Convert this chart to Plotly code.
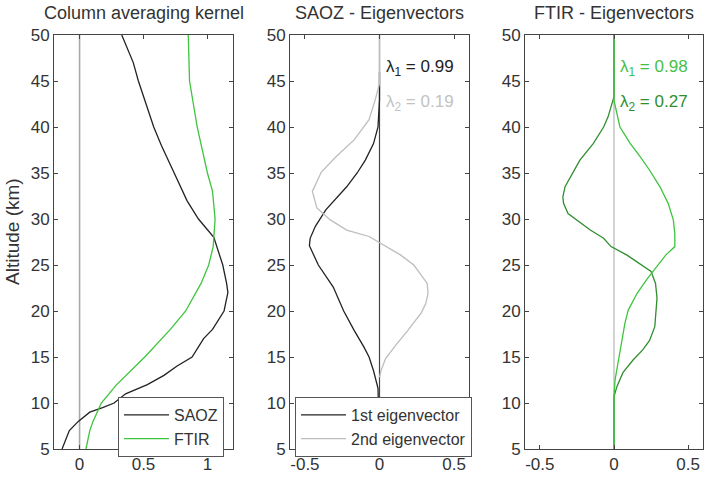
import plotly.graph_objects as go

# ---------------- data ----------------
# Panel 1: column averaging kernels
saoz_ak_alt = [5, 7, 8, 9, 9.5, 10, 11, 12, 13, 14, 15, 17, 18, 20, 22, 23, 25, 27, 28, 30, 32, 35, 38, 40, 45, 47, 50]
saoz_ak_val = [-0.137, -0.08, -0.01, 0.08, 0.18, 0.27, 0.36, 0.53, 0.66, 0.76, 0.88, 0.97, 1.04, 1.13, 1.16, 1.15, 1.12, 1.07, 1.05, 0.93, 0.84, 0.74, 0.64, 0.58, 0.46, 0.42, 0.33]
ftir_ak_alt = [5, 7, 8, 10, 12, 15, 18, 20, 23, 25, 27, 28, 30, 33, 35, 40, 45, 50]
ftir_ak_val = [0.05, 0.08, 0.105, 0.17, 0.29, 0.51, 0.71, 0.83, 0.95, 1.01, 1.045, 1.05, 1.06, 1.04, 1.0, 0.92, 0.86, 0.85]

# Panel 2: SAOZ eigenvectors
saoz_ev1_alt = [5, 11.6, 13.5, 15, 16.1, 17.9, 20, 22.6, 25, 26.1, 27.1, 27.9, 29.2, 31, 32.1, 33.5, 35, 36.4, 38.2, 40, 43, 46]
saoz_ev1_val = [0, -0.01, -0.04, -0.07, -0.105, -0.17, -0.24, -0.31, -0.41, -0.44, -0.47, -0.465, -0.43, -0.36, -0.3, -0.22, -0.15, -0.095, -0.04, -0.01, 0, 0]
saoz_ev2_alt = [12.8, 13.5, 14.8, 16.1, 17.9, 19.8, 20.8, 21.9, 23, 25, 26.1, 27.4, 28.1, 28.8, 29.9, 31.2, 33, 35.1, 36.8, 38.6, 40.8, 42.9, 44.7, 50]
saoz_ev2_val = [0, 0.01, 0.04, 0.1, 0.19, 0.28, 0.31, 0.325, 0.32, 0.23, 0.14, 0, -0.07, -0.22, -0.33, -0.42, -0.45, -0.39, -0.29, -0.17, -0.07, -0.03, 0, 0]

# Panel 3: FTIR eigenvectors
ftir_ev1_alt = [5, 10.7, 12.5, 14.7, 16.8, 18.7, 20.1, 21.9, 23.4, 24.8, 26.1, 27, 28.4, 29.9, 31.7, 33.5, 35.3, 36.8, 38.2, 40, 41.5, 42.9, 50]
ftir_ev1_val = [0, 0, 0.007, 0.03, 0.05, 0.074, 0.096, 0.155, 0.22, 0.29, 0.35, 0.41, 0.41, 0.40, 0.365, 0.31, 0.24, 0.175, 0.11, 0.04, 0.018, 0, 0]
ftir_ev2_alt = [5, 10.7, 11.8, 13.3, 14.7, 15.8, 16.8, 18.3, 21.4, 23, 24.3, 25.2, 26.1, 27, 27.9, 28.8, 30, 30.6, 31.7, 32.4, 33.5, 35, 36.4, 38.2, 40, 41.1, 43.3, 50]
ftir_ev2_val = [0, 0, 0.02, 0.06, 0.13, 0.195, 0.24, 0.275, 0.29, 0.28, 0.25, 0.17, 0.085, -0.02, -0.07, -0.16, -0.26, -0.31, -0.34, -0.345, -0.33, -0.28, -0.23, -0.14, -0.07, -0.04, 0, 0]

panel_titles = ["Column averaging kernel", "SAOZ - Eigenvectors", "FTIR - Eigenvectors"]
y_ticks = [5, 10, 15, 20, 25, 30, 35, 40, 45, 50]
x_ticks_ak = [0, 0.5, 1]
x_ticks_ev = [-0.5, 0, 0.5]
saoz_lambdas = ["0.99", "0.19"]
ftir_lambdas = ["0.98", "0.27"]

# ---------------- styling ----------------
W, H = 707, 477
FONT = "Liberation Sans, Arial, sans-serif"
TXT = "#333333"
BLACK = "#222222"
LGRAY = "#bdbdbd"
GREEN = "#3ec43e"
DGREEN = "#2f8f2f"

def fx(px):
    return px / W

def fy(py):
    return (H - py) / H

xdoms = [(54, 233), (290, 469), (525, 703)]
ytop, ybot = 35, 449

fig = go.Figure()

# zero lines
for i, col, w in [(1, "#a8a8a8", 1.6), (2, "#444444", 1.2), (3, "#b5b5b5", 1.2)]:
    fig.add_trace(go.Scatter(x=[0, 0], y=[5, 50], mode="lines", line=dict(color=col, width=w),
                             xaxis="x" if i == 1 else f"x{i}", yaxis="y" if i == 1 else f"y{i}",
                             showlegend=False, hoverinfo="skip"))

fig.add_trace(go.Scatter(x=saoz_ak_val, y=saoz_ak_alt, mode="lines", name="SAOZ",
                         line=dict(color=BLACK, width=1.3), xaxis="x", yaxis="y", legend="legend"))
fig.add_trace(go.Scatter(x=ftir_ak_val, y=ftir_ak_alt, mode="lines", name="FTIR",
                         line=dict(color=GREEN, width=1.3), xaxis="x", yaxis="y", legend="legend"))

fig.add_trace(go.Scatter(x=saoz_ev1_val, y=saoz_ev1_alt, mode="lines", name="1st eigenvector",
                         line=dict(color=BLACK, width=1.3), xaxis="x2", yaxis="y2", legend="legend2"))
fig.add_trace(go.Scatter(x=saoz_ev2_val, y=saoz_ev2_alt, mode="lines", name="2nd eigenvector",
                         line=dict(color=LGRAY, width=1.3), xaxis="x2", yaxis="y2", legend="legend2"))

fig.add_trace(go.Scatter(x=ftir_ev2_val, y=ftir_ev2_alt, mode="lines", showlegend=False,
                         line=dict(color=DGREEN, width=1.3), xaxis="x3", yaxis="y3"))
fig.add_trace(go.Scatter(x=ftir_ev1_val, y=ftir_ev1_alt, mode="lines", showlegend=False,
                         line=dict(color=GREEN, width=1.3), xaxis="x3", yaxis="y3"))

axis_common = dict(showline=True, linecolor="#444444", linewidth=1, mirror="ticks",
                   ticks="inside", ticklen=4, tickcolor="#444444", showgrid=False, zeroline=False,
                   tickfont=dict(family=FONT, size=17, color=TXT), automargin=False)

layout = dict(width=W, height=H, margin=dict(l=0, r=0, t=0, b=0),
              paper_bgcolor="white", plot_bgcolor="white", font=dict(family=FONT, color=TXT),
              hovermode=False)

for i, (x0, x1) in enumerate(xdoms, start=1):
    xk = "xaxis" if i == 1 else f"xaxis{i}"
    yk = "yaxis" if i == 1 else f"yaxis{i}"
    xr = [-0.2, 1.2] if i == 1 else [-0.6, 0.6]
    xt = x_ticks_ak if i == 1 else x_ticks_ev
    layout[xk] = dict(domain=[fx(x0), fx(x1)], range=xr, tickvals=xt,
                      ticktext=[("%g" % v) for v in xt],
                      anchor="y" if i == 1 else f"y{i}", **axis_common)
    layout[yk] = dict(domain=[fy(ybot), fy(ytop)], range=[5, 50], tickvals=y_ticks,
                      anchor="x" if i == 1 else f"x{i}", **axis_common)

layout["legend"] = dict(x=fx(118), y=fy(397), xanchor="left", yanchor="top",
                        bgcolor="white", bordercolor="#555555", borderwidth=1, itemwidth=45,
                        font=dict(family=FONT, size=16, color=TXT), tracegroupgap=0)
layout["legend2"] = dict(x=fx(295), y=fy(397), xanchor="left", yanchor="top",
                         bgcolor="white", bordercolor="#555555", borderwidth=1, itemwidth=45,
                         font=dict(family=FONT, size=16, color=TXT), tracegroupgap=0)

annotations = []
for i, t in enumerate(panel_titles):
    x0, x1 = xdoms[i]
    annotations.append(dict(text=t, x=fx((x0 + x1) / 2), y=fy(13), xref="paper", yref="paper",
                            xanchor="center", yanchor="middle", showarrow=False,
                            font=dict(family=FONT, size=18, color=TXT)))
annotations.append(dict(text="Altitude (km)", x=fx(12), y=fy(232), xref="paper", yref="paper",
                        xanchor="center", yanchor="middle", textangle=-90, showarrow=False,
                        font=dict(family=FONT, size=19, color=TXT)))

lam_specs = [("x2", "y2", saoz_lambdas, [BLACK, "#c2c2c2"]),
             ("x3", "y3", ftir_lambdas, ["#45c045", DGREEN])]
for xr_, yr_, vals, cols in lam_specs:
    for k, (v, c) in enumerate(zip(vals, cols)):
        annotations.append(dict(text=f"λ<sub>{k+1}</sub> = {v}", x=0.03, y=46.4 - 3.8 * k,
                                xref=xr_, yref=yr_, xanchor="left", yanchor="middle",
                                showarrow=False, font=dict(family=FONT, size=17, color=c)))
layout["annotations"] = annotations

fig.update_layout(**layout)
fig.write_html("out.html", config={"displayModeBar": False, "staticPlot": True},
               post_script="document.body.style.margin='0px';document.body.style.overflow='hidden';")
